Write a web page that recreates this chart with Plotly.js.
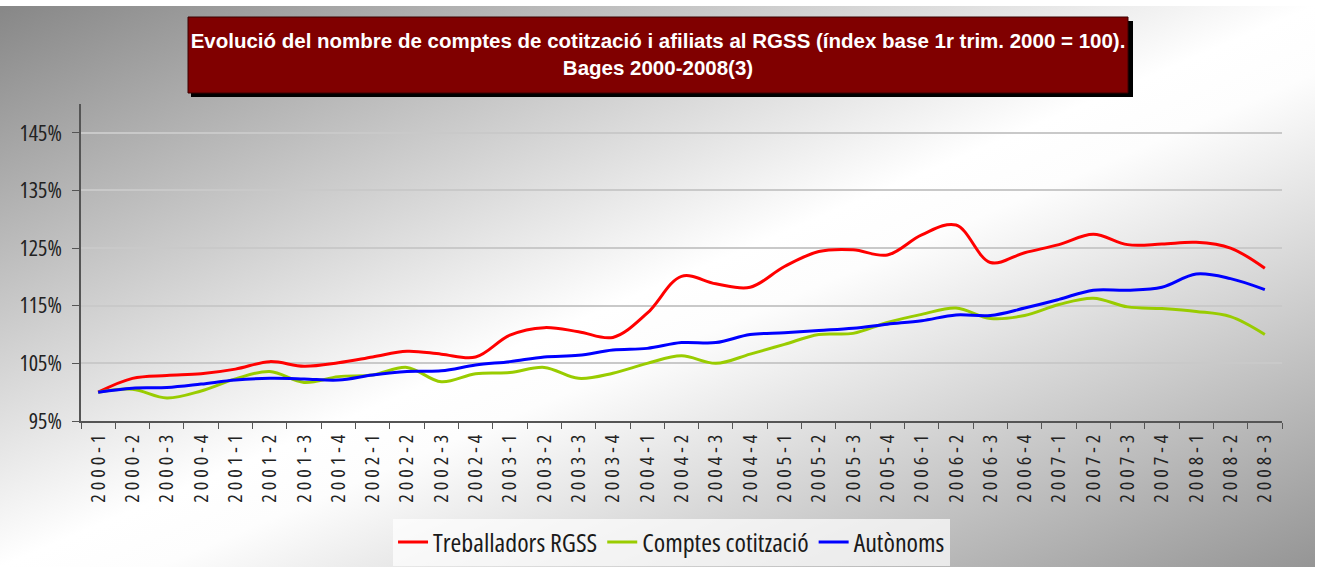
<!DOCTYPE html>
<html>
<head>
<meta charset="utf-8">
<script src="https://cdn.plot.ly/plotly-3.0.1.min.js"></script>
<style>
  html, body { margin: 0; padding: 0; background: #ffffff; }
  #wrap { position: relative; width: 1320px; height: 567px; overflow: hidden; background: #ffffff; }
  #bg { position: absolute; left: 0; top: 6px; width: 1315px; height: 561px;
        background: linear-gradient(to bottom right, #878787 0%, #ffffff 50%, #fdfdfd 56%, #959595 100%); }
  #chart { position: absolute; left: 0; top: 0; width: 1320px; height: 567px; }
  .xtick text { letter-spacing: 4px; font-stretch: 75%; }
  .legendtext, .ytick text { font-stretch: 75%; }
</style>
</head>
<body>
<div id="wrap">
  <div id="bg"></div>
  <div id="chart"></div>
</div>
<script>
// Categories (quarters)
const quarters = [
  "2000-1","2000-2","2000-3","2000-4",
  "2001-1","2001-2","2001-3","2001-4",
  "2002-1","2002-2","2002-3","2002-4",
  "2003-1","2003-2","2003-3","2003-4",
  "2004-1","2004-2","2004-3","2004-4",
  "2005-1","2005-2","2005-3","2005-4",
  "2006-1","2006-2","2006-3","2006-4",
  "2007-1","2007-2","2007-3","2007-4",
  "2008-1","2008-2","2008-3"
];

// Series values (index, base 1r trim. 2000 = 100)
const treballadorsRGSS = [
  100.0, 102.4, 102.9, 103.2, 104.0, 105.3, 104.5, 105.1,
  106.1, 107.1, 106.6, 106.1, 109.9, 111.2, 110.5, 109.5,
  113.7, 120.1, 118.8, 118.2, 121.8, 124.4, 124.7, 123.8,
  127.3, 129.0, 122.5, 124.2, 125.6, 127.4, 125.6, 125.7,
  126.0, 125.0, 121.5
];
const comptesCotitzacio = [
  100.0, 100.5, 99.0, 100.2, 102.3, 103.6, 101.7, 102.7,
  103.0, 104.3, 101.8, 103.2, 103.4, 104.3, 102.4, 103.3,
  105.0, 106.3, 105.0, 106.6, 108.3, 110.0, 110.2, 112.1,
  113.5, 114.6, 112.8, 113.3, 115.2, 116.3, 114.8, 114.5,
  114.0, 113.1, 110.0
];
const autonoms = [
  100.0, 100.7, 100.8, 101.4, 102.1, 102.4, 102.3, 102.1,
  103.0, 103.6, 103.7, 104.7, 105.3, 106.1, 106.4, 107.3,
  107.6, 108.6, 108.6, 110.0, 110.3, 110.7, 111.1, 111.8,
  112.4, 113.4, 113.3, 114.6, 116.1, 117.7, 117.7, 118.2,
  120.5, 119.7, 117.8
];

const seriesNames = ["Treballadors RGSS", "Comptes cotització", "Autònoms"];
const seriesColors = ["#ff0000", "#99cc00", "#0000ff"];
const seriesValues = [treballadorsRGSS, comptesCotitzacio, autonoms];

const titleText = "Evolució del nombre de comptes de cotització i afiliats al RGSS (índex base 1r trim. 2000 = 100).<br>Bages 2000-2008(3)";

const narrow = '"Open Sans", "DejaVu Sans Condensed", sans-serif';

const traces = seriesValues.map((vals, i) => ({
  type: "scatter",
  mode: "lines",
  name: seriesNames[i],
  x: quarters,
  y: vals,
  line: { color: seriesColors[i], width: 3, shape: "spline", smoothing: 1 },
  hoverinfo: "x+y+name"
}));

const layout = {
  width: 1320,
  height: 567,
  margin: { l: 81, r: 38, t: 104, b: 146, pad: 0, autoexpand: false },
  paper_bgcolor: "rgba(0,0,0,0)",
  plot_bgcolor: "rgba(0,0,0,0)",
  title: {
    text: titleText,
    font: { family: '"Liberation Sans", Arial, sans-serif', size: 20.5, color: "#ffffff", weight: "bold" },
    xref: "container", x: 0.4985, xanchor: "center",
    yref: "container", y: 0.9153, yanchor: "middle"
  },
  xaxis: {
    type: "category",
    range: [-0.5, quarters.length - 0.5],
    tickson: "boundaries",
    ticks: "outside", ticklen: 6, tickwidth: 1.2, tickcolor: "#555555",
    showline: true, linecolor: "#555555", linewidth: 1.5,
    showgrid: false, zeroline: false,
    tickangle: -90,
    tickfont: { family: narrow, size: 20, color: "#222222" },
    fixedrange: true
  },
  yaxis: {
    range: [95, 150],
    tick0: 95, dtick: 10, ticksuffix: "%",
    ticks: "outside", ticklen: 7, tickwidth: 1.2, tickcolor: "#555555",
    showline: true, linecolor: "#555555", linewidth: 1.5,
    showgrid: true, gridcolor: "#c9c9c9", gridwidth: 1.5,
    zeroline: false,
    tickfont: { family: narrow, size: 22, color: "#222222" },
    ticklabelstandoff: 6,
    fixedrange: true
  },
  legend: {
    orientation: "h",
    x: 0.4917, xanchor: "center",
    y: -0.382, yanchor: "middle",
    bgcolor: "rgba(255,255,255,0.7)",
    borderwidth: 0,
    font: { family: narrow, size: 26, color: "#1a1a1a" },
    itemwidth: 30,
    tracegroupgap: 0
  },
  shapes: [
    { type: "rect", xref: "paper", yref: "paper", layer: "above",
      x0: (191 - 81) / 1201, x1: (1133 - 81) / 1201,
      y0: (421 - 97) / 317, y1: (421 - 21) / 317,
      fillcolor: "#000000", line: { width: 0 } },
    { type: "rect", xref: "paper", yref: "paper", layer: "above",
      x0: (188 - 81) / 1201, x1: (1128 - 81) / 1201,
      y0: (421 - 93) / 317, y1: (421 - 17) / 317,
      fillcolor: "#800000", line: { color: "#3a0000", width: 1 } }
  ],
  showlegend: true
};

Plotly.newPlot("chart", traces, layout, { displayModeBar: false, staticPlot: false });
</script>
</body>
</html>
